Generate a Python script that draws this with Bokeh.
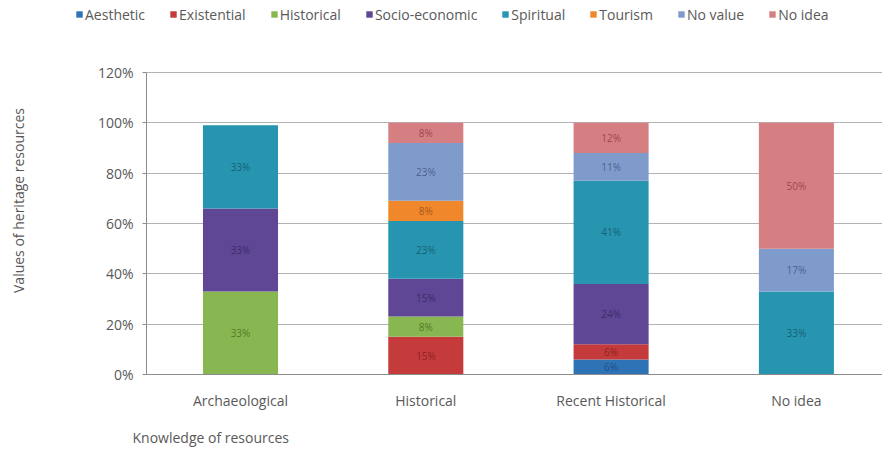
import math
from bokeh.plotting import figure
from bokeh.models import Range1d, FixedTicker, PrintfTickFormatter, Label, ColumnDataSource, LinearAxis, Grid
from bokeh.core.properties import value
from bokeh.embed import file_html
from bokeh.resources import INLINE

categories = ["Archaeological", "Historical", "Recent Historical", "No idea"]
series = ["Aesthetic", "Existential", "Historical", "Socio-economic",
          "Spiritual", "Tourism", "No value", "No idea"]

aesthetic = [0, 0, 6, 0]
existential = [0, 15, 6, 0]
historical = [33, 8, 0, 0]
socio_economic = [33, 15, 24, 0]
spiritual = [33, 23, 41, 33]
tourism = [0, 8, 0, 0]
no_value = [0, 23, 11, 17]
no_idea = [0, 8, 12, 50]

y_ticks = [0, 20, 40, 60, 80, 100, 120]

colors = ["#2f73b7", "#c53a3a", "#88b650", "#5f4796", "#2795b0", "#f0872a", "#7f9bcc", "#d67f83"]
label_colors = ["#1d4677", "#7d2020", "#4a6e25", "#352660", "#135567", "#94501a", "#3f557f", "#8e3b40"]
FONT = "Open Sans"
TXT = "#595959"

values = [aesthetic, existential, historical, socio_economic, spiritual, tourism, no_value, no_idea]
xs = list(range(1, len(categories) + 1))

W, H = 882, 450
# pixel geometry of the plotting area (left, right, top of 120%, bottom of 0%)
PX_L, PX_R, PX_T, PX_B = 146, 882, 72, 374
PX_C1 = 240          # centre of first category
STEP = 185.3         # pixels per category
PPU = (PX_B - PX_T) / 120.0   # pixels per percent

def dx(px):
    return 1 + (px - PX_C1) / STEP

def dy(py):
    return (PX_B - py) / PPU

data = {"x": xs}
keys = []
for i, (name, vals) in enumerate(zip(series, values)):
    k = "s%d" % i
    keys.append(k)
    data[k] = vals
src = ColumnDataSource(data)

p = figure(width=W, height=H, output_backend="svg", toolbar_location=None,
           x_range=Range1d(dx(0), dx(W)), y_range=Range1d(dy(H), dy(0)),
           min_border=0, x_axis_type=None, y_axis_type=None)
p.outline_line_color = None
p.background_fill_color = "white"
p.xgrid.grid_line_color = None
p.ygrid.grid_line_color = None

yaxis = LinearAxis(ticker=FixedTicker(ticks=y_ticks), formatter=PrintfTickFormatter(format="%d%%"),
                   fixed_location=dx(PX_L), bounds=(0, 120))
yaxis.axis_line_color = "#8c8c8c"
yaxis.major_tick_line_color = "#8c8c8c"
yaxis.major_tick_out = 4
yaxis.major_tick_in = 0
yaxis.minor_tick_line_color = None
yaxis.major_label_standoff = 9
xaxis = LinearAxis(ticker=FixedTicker(ticks=xs), fixed_location=0, bounds=(dx(PX_L), dx(PX_R)))
xaxis.major_label_overrides = {x: c for x, c in zip(xs, categories)}
xaxis.axis_line_color = "#8c8c8c"
xaxis.major_tick_line_color = None
xaxis.minor_tick_line_color = None
xaxis.major_label_standoff = 10
for ax in (xaxis, yaxis):
    ax.major_label_text_font = FONT
    ax.major_label_text_font_size = "14px"
    ax.major_label_text_color = TXT
p.add_layout(yaxis, "left")
p.add_layout(xaxis, "below")

grid = Grid(dimension=1, ticker=yaxis.ticker, grid_line_color="#b3b3b3", grid_line_width=1,
            cross_bounds=(dx(PX_L), dx(PX_R)))
p.add_layout(grid)

renderers = p.vbar_stack(keys, x="x", width=0.405, source=src, color=colors,
                         line_color=None, legend_label=series)

# value labels
lx, ly, lt, lc = [], [], [], []
for j, x in enumerate(xs):
    base = 0
    for i, vals in enumerate(values):
        v = vals[j]
        if v > 0:
            lx.append(x)
            ly.append(base + v / 2)
            lt.append("%d%%" % v)
            lc.append(label_colors[i])
        base += v
p.text(x=lx, y=ly, text=lt, text_color=lc, text_font=value(FONT), text_font_size="10px",
       text_align="center", text_baseline="middle", text_alpha=0.85)

p.add_layout(Label(x=dx(132), y=dy(437), text="Knowledge of resources", text_font=FONT,
                   text_font_size="14px", text_color=TXT, text_align="left",
                   text_baseline="middle"))
p.add_layout(Label(x=dx(18), y=dy(200), text="Values of heritage resources", text_font=FONT,
                   text_font_size="14px", text_color=TXT, text_align="center",
                   text_baseline="middle", angle=math.pi / 2))

lg = p.legend[0]
lg.orientation = "horizontal"
lg.location = (75, H - 24)
lg.glyph_width = 8
lg.glyph_height = 8
lg.label_standoff = 2
lg.spacing = 24
lg.padding = 0
lg.margin = 0
lg.label_height = 20
lg.label_text_font = FONT
lg.label_text_font_size = "14px"
lg.label_text_color = TXT
lg.border_line_alpha = 0
lg.background_fill_alpha = 0

open("out.html", "w").write(file_html(p, INLINE))
